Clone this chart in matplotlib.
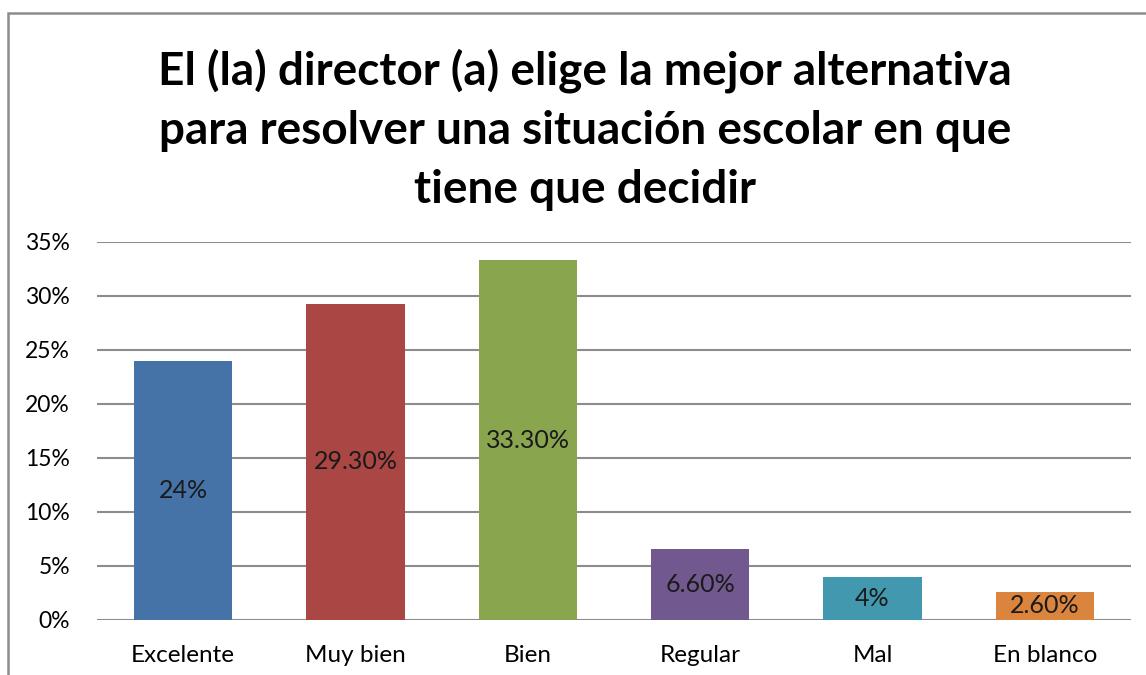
import matplotlib
matplotlib.use("Agg")
import matplotlib.pyplot as plt
import matplotlib.patches as patches
from matplotlib.ticker import FuncFormatter

categories = ["Excelente", "Muy bien", "Bien", "Regular", "Mal", "En blanco"]
values = [0.24, 0.293, 0.333, 0.066, 0.04, 0.026]
value_labels = ["24%", "29.30%", "33.30%", "6.60%", "4%", "2.60%"]
yticks = [0, 0.05, 0.10, 0.15, 0.20, 0.25, 0.30, 0.35]

colors = ["#4572A7", "#AA4643", "#89A54E", "#71588F", "#4198AF", "#DB843D"]
title = ("El (la) director (a) elige la mejor alternativa\n"
         "para resolver una situación escolar en que\n"
         "tiene que decidir")

plt.rcParams["font.family"] = ["Lato", "DejaVu Sans"]

fig = plt.figure(figsize=(11.46, 6.75), dpi=100)
W, H = 1146, 675

# outer chart border (cut off at right and bottom like the scan)
fig.patches.append(patches.Rectangle((8 / W, -0.05), 1.1, (H - 13) / H + 0.05,
                                     transform=fig.transFigure, fill=False,
                                     edgecolor="#8c8c8c", linewidth=1.8))

ax = fig.add_axes([97 / W, (H - 620) / H, (1131 - 97) / W, (620 - 242) / H])
x = range(len(categories))
bars = ax.bar(x, values, width=0.57, color=colors, zorder=3)
for b, lab in zip(bars, value_labels):
    ax.text(b.get_x() + b.get_width() / 2, b.get_height() / 2, lab,
            ha="center", va="center", fontsize=18, color="#1a1a1a", zorder=4)

ax.set_xlim(-0.5, len(categories) - 0.5)
ax.set_ylim(0, 0.35)
ax.set_yticks(yticks)
ax.yaxis.set_major_formatter(FuncFormatter(lambda v, p: f"{v * 100:.0f}%"))
ax.set_xticks(list(x))
ax.set_xticklabels(categories)
ax.tick_params(axis="both", length=0, colors="black")
ax.tick_params(axis="y", pad=19.5, labelsize=16.5)
ax.tick_params(axis="x", pad=18, labelsize=17.5)
ax.grid(axis="y", color="#8c8c8c", linewidth=1.5, zorder=0)
for s in ax.spines.values():
    s.set_visible(False)

fig.text(585 / W, 1 - 130 / H, title, ha="center", va="center",
         fontsize=33, fontweight="bold", color="black", linespacing=1.5)

fig.savefig("out.png", dpi=100)
